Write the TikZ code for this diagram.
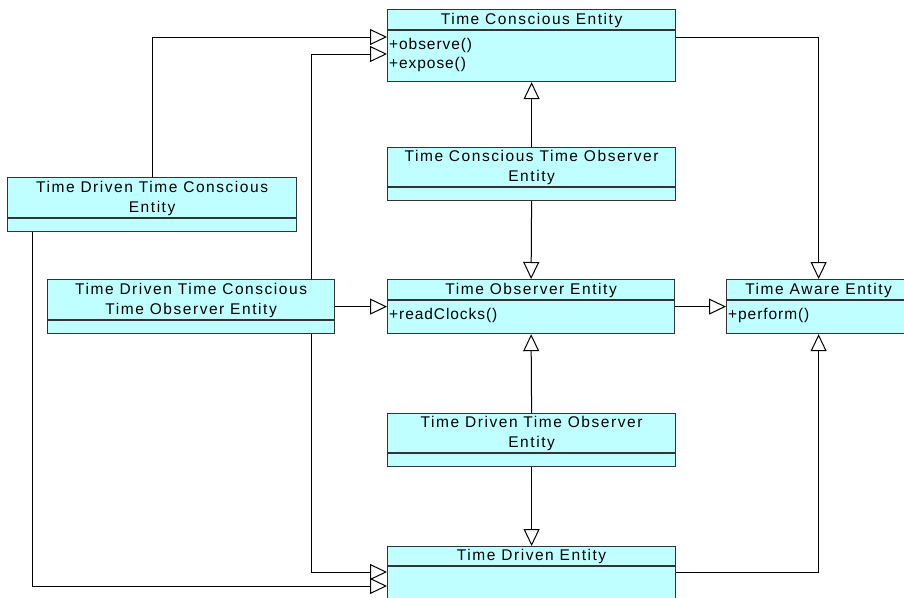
\documentclass[tikz,border=0pt]{standalone}
\usepackage{fontspec}
\setmainfont{Liberation Sans}
\newfontfamily\titlefont{Liberation Sans}[LetterSpace=10]
\newfontfamily\memberfont{Liberation Sans}[LetterSpace=6]
\usetikzlibrary{arrows.meta,calc}
\definecolor{classfill}{RGB}{192,255,255}
\definecolor{classedge}{RGB}{51,51,51}

% A UML class: name, x, y (top left), width, height, header height, title, members
\newcommand\umlclass[8]{%
  \node[classbox, minimum width=#4pt, minimum height=#5pt] (#1) at (#2,#3) {};
  \draw[classedge, line width=1.2pt] ($(#1.north west)+(0,#6)$) -- ($(#1.north east)+(0,#6)$);
  \node[classtitle] (#1-title) at ($(#1.north)+(0,#6/2+0.5)$) {#7};
  \node[classmembers] (#1-members) at ($(#1.north west)+(2,#6+19)$)
    {\begin{tabular}[t]{@{}l@{}}#8\end{tabular}};
}

\begin{document}
\begin{tikzpicture}[x=1pt,y=-1pt,
  classbox/.style={draw=classedge, fill=classfill, line width=1.2pt, rectangle, inner sep=0pt, anchor=north west},
  classtitle/.style={font=\titlefont\fontsize{15.5}{20}\selectfont, align=center, inner sep=0pt, text=black},
  classmembers/.style={font=\memberfont\fontsize{15.5}{19.5}\selectfont, inner sep=0pt, anchor=base west, text=black},
  gen/.style={draw=black, line width=1pt, -{Triangle[fill=white, length=17pt, width=16pt]}}]
\clip (0,0) rectangle (904,597);
\fill[white] (0,0) rectangle (904,597);

\umlclass{tce}{387}{9}{288}{72}{21}{Time Conscious Entity}{+observe()\\+expose()}
\umlclass{tctoe}{387}{147}{288}{53}{40}{Time Conscious Time Observer\\Entity}{}
\umlclass{toe}{387}{279}{287}{54}{21}{Time Observer Entity}{+readClocks()}
\umlclass{tae}{726}{279}{184}{54}{21}{Time Aware Entity}{+perform()}
\umlclass{tdtoe}{387}{413}{288}{53}{40}{Time Driven Time Observer\\Entity}{}
\umlclass{tde}{387}{546}{288}{70}{20}{Time Driven Entity}{}
\umlclass{tdtce}{7}{177}{289}{54}{41}{Time Driven Time Conscious\\Entity}{}
\umlclass{tdtctoe}{47}{279}{287}{54}{41}{Time Driven Time Conscious\\Time Observer Entity}{}

% Generalisation arrows
\draw[gen] (tctoe.north) -- (tce.south);
\draw[gen] (tctoe.south) -- (toe.north);
\draw[gen] (tdtoe.north) -- (toe.south);
\draw[gen] (tdtoe.south) -- (tde.north);
\draw[gen] (toe.east) -- (tae.west);
\draw[gen] (tdtctoe.east) -- (toe.west);
\draw[gen] ([yshift=-28pt]tce.north east) -| (tae.north);
\draw[gen] ([yshift=-26pt]tde.north east) -| (tae.south);
\draw[gen] (tdtce.north) |- ([yshift=-28pt]tce.north west);
\draw[gen] ([xshift=-24pt]tdtctoe.north east) |- ([yshift=-45pt]tce.north west);
\draw[gen] ([xshift=-24pt]tdtctoe.south east) |- ([yshift=-26pt]tde.north west);
\draw[gen] ([xshift=25pt]tdtce.south west) |- ([yshift=-40pt]tde.north west);
\end{tikzpicture}
\end{document}
